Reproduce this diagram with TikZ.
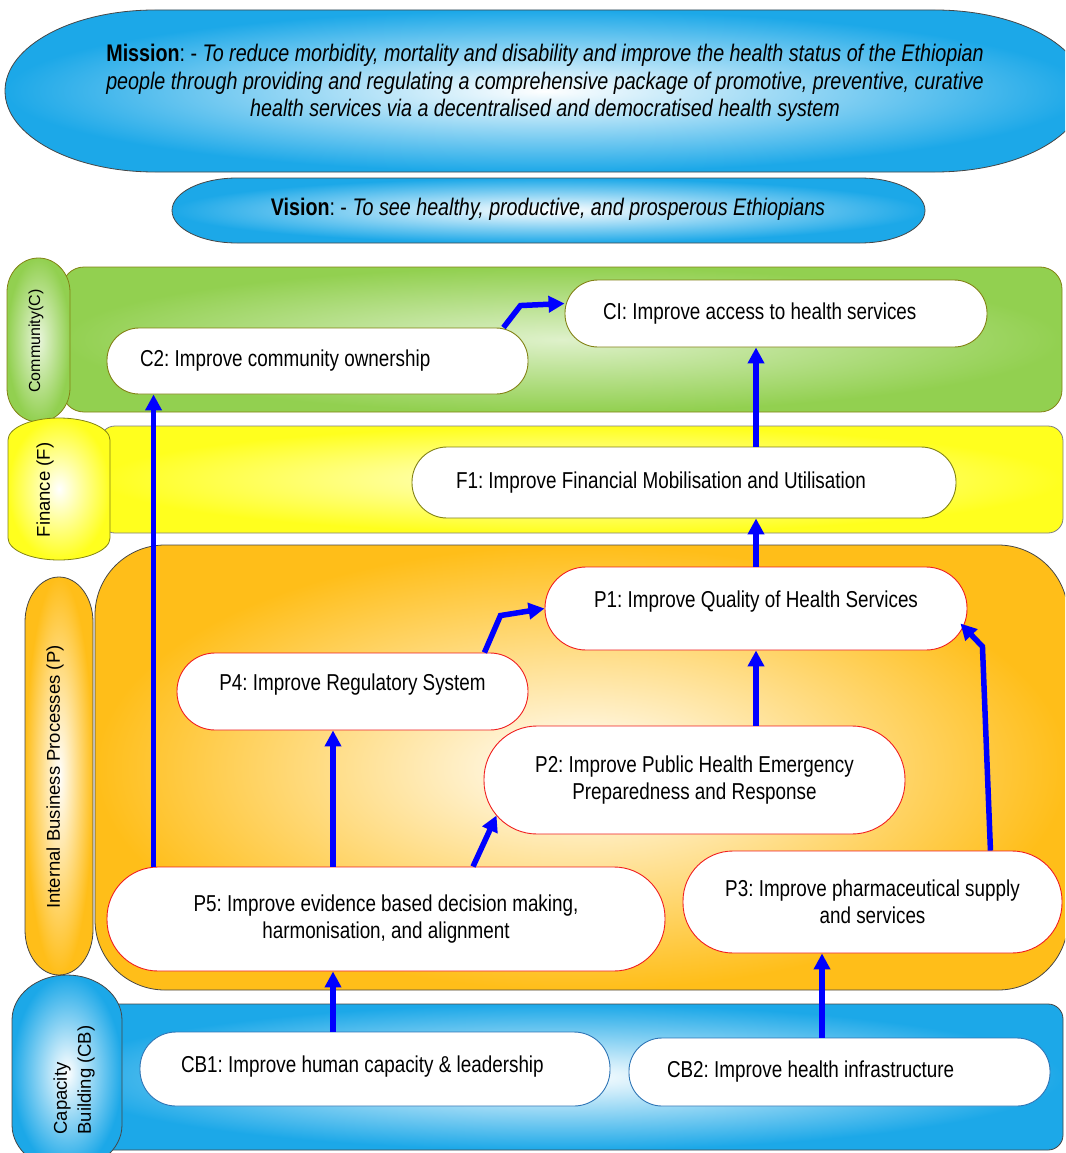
\documentclass[tikz,border=0pt]{standalone}
\usepackage{fontspec}
\setmainfont{Liberation Sans}[FakeStretch=0.82]
\newfontfamily\sidefont{Liberation Sans}
\usetikzlibrary{arrows.meta}
\frenchspacing

\definecolor{skyband}{RGB}{28,168,232}
\definecolor{grassband}{RGB}{146,208,80}
\definecolor{lemonband}{RGB}{255,255,30}
\definecolor{amberband}{RGB}{255,190,25}
\definecolor{oliveline}{RGB}{130,130,20}
\definecolor{darkline}{RGB}{70,70,70}
\definecolor{arrowblue}{RGB}{0,0,255}
\definecolor{cbline}{RGB}{46,117,182}
\definecolor{redline}{RGB}{240,30,30}

% horizontal capsule: style, x0, y0, x1, y1, end radius
\newcommand{\hcapsule}[6]{%
  \path[#1] ({#2+#6},#3) -- ({#4-#6},#3)
    arc[start angle=-90,end angle=90,x radius=#6,y radius={(#5-#3)/2}]
    -- ({#2+#6},#5)
    arc[start angle=90,end angle=270,x radius=#6,y radius={(#5-#3)/2}] -- cycle;}
% vertical capsule: style, x0, y0, x1, y1, end radius
\newcommand{\vcapsule}[6]{%
  \path[#1] (#2,{#3+#6})
    arc[start angle=180,end angle=360,x radius={(#4-#2)/2},y radius=#6]
    -- (#4,{#5-#6})
    arc[start angle=0,end angle=180,x radius={(#4-#2)/2},y radius=#6] -- cycle;}

\begin{document}
\begin{tikzpicture}[x=1pt,y=-1pt,
  obj/.style={draw=#1, fill=white, line width=0.9pt, inner sep=0pt, align=center,
    font=\fontsize{23}{27}\selectfont},
  flow/.style={draw=arrowblue, line width=5.5pt, -{Triangle[length=16pt,width=16pt]}},
  sidelbl/.style={rotate=90, align=left, font=\sidefont\fontsize{18.5}{24}\selectfont}]
\useasboundingbox (0,0) rectangle (1065,1153);
\clip (0,0) rectangle (1065,1153);

% Mission and vision
\hcapsule{draw=darkline, line width=0.8pt, inner color=white, outer color=skyband}{5}{10}{1085}{172}{150}
\node[align=center, font=\fontsize{24}{27.5}\selectfont] (mission) at (545,83)
  {\textbf{Mission}: - \textit{To reduce morbidity, mortality and disability and improve the health status of the Ethiopian}\\
   \textit{people through providing and regulating a comprehensive package of promotive, preventive, curative}\\
   \textit{health services via a decentralised and democratised health system}};
\hcapsule{draw=darkline, line width=0.8pt, inner color=white, outer color=skyband}{172}{178}{925}{243}{65}
\node[font=\fontsize{24}{27.5}\selectfont] (vision) at (548,209)
  {\textbf{Vision}: - \textit{To see healthy, productive, and prosperous Ethiopians}};

% Perspective bands
\draw[oliveline, line width=0.8pt, inner color=grassband!30, outer color=grassband, rounded corners=22]
  (62,267) rectangle (1062,412);
\draw[gray, line width=0.8pt, inner color=lemonband!15, outer color=lemonband, rounded corners=15]
  (100,426) rectangle (1063,533);
\draw[darkline, line width=0.8pt, inner color=white, outer color=amberband, rounded corners=70]
  (95,545) rectangle (1068,990);
\draw[darkline, line width=0.8pt, inner color=white, outer color=skyband, rounded corners=15]
  (60,1004) rectangle (1063,1150);

% Side labels
\vcapsule{draw=oliveline, line width=0.8pt, inner color=grassband!20, outer color=grassband}{7}{258}{70}{422}{34}
\node[sidelbl, font=\sidefont\fontsize{16}{20}\selectfont] (comlbl) at (36,341) {Community(C)};
\vcapsule{draw=oliveline, line width=0.8pt, inner color=white, outer color=lemonband}{8}{418}{110}{560}{22}
\node[sidelbl] (finlbl) at (45,490) {Finance (F)};
\vcapsule{draw=darkline, line width=0.8pt, inner color=white, outer color=amberband}{25}{577}{93}{975}{45}
\node[sidelbl] (intlbl) at (55,777) {Internal Business Processes (P)};
\vcapsule{draw=darkline, line width=0.8pt, inner color=white, outer color=skyband}{12}{975}{122}{1170}{45}
\node[sidelbl] (caplbl) at (74,1080) {Capacity\\Building (CB)};

% Objectives
\node[obj=oliveline, rounded corners=33, minimum height=67, inner xsep=38pt, text width=346pt, align=flush left]
  (C1) at (776,313.5) {CI: Improve access to health services};
\node[obj=oliveline, rounded corners=32, minimum height=66, inner xsep=33pt, text width=355pt, align=flush left]
  (C2) at (317.5,361) {C2: Improve community ownership};
\node[obj=oliveline, rounded corners=35, minimum height=71, inner xsep=44pt, text width=456pt, align=flush left]
  (F1) at (684,482.5) {F1: Improve Financial Mobilisation and Utilisation};
\node[obj=redline, rounded corners=41, minimum width=422, minimum height=83, text depth=19pt]
  (P1) at (756,608.5) {P1: Improve Quality of Health Services};
\node[obj=redline, rounded corners=38, minimum width=351, minimum height=77, text depth=19pt]
  (P4) at (352.5,691.5) {P4: Improve Regulatory System};
\node[obj=redline, rounded corners=53, minimum width=421, minimum height=108]
  (P2) at (694.5,780) {P2: Improve Public Health Emergency\\Preparedness and Response};
\node[obj=redline, rounded corners=51, minimum width=558, minimum height=104]
  (P5) at (386,919) {P5: Improve evidence based decision making,\\harmonisation, and alignment};
\node[obj=redline, rounded corners=50, minimum width=379, minimum height=102]
  (P3) at (872.5,902) {P3: Improve pharmaceutical supply\\and services};
\node[obj=cbline, rounded corners=36, minimum height=74, inner xsep=41pt, text width=388pt, align=flush left, text depth=10pt]
  (CB1) at (375,1069) {CB1: Improve human capacity \& leadership};
\node[obj=cbline, rounded corners=33, minimum height=68, inner xsep=38pt, text width=345pt, align=flush left]
  (CB2) at (839.5,1072) {CB2: Improve health infrastructure};

% Cause and effect links
\draw[flow] ([xshift=-25pt]C2.north east) -- ++(17,-22) -- ([yshift=10pt]C1.west);
\draw[flow] (F1.north -| P1.north) -- (C1.south -| P1.north);
\draw[flow] (P1.north) -- (F1.south -| P1.north);
\draw[flow] ([xshift=47pt]P5.north west) -- ([xshift=47pt]C2.south west);
\draw[flow] ([xshift=-44pt]P4.north east) -- ++(16,-37) -- (P1.west);
\draw[flow] (P2.north -| P1.south) -- (P1.south);
\draw[flow] ([xshift=-72pt]P3.north east) -- ++(-8,-204) -- ([xshift=-7pt,yshift=-15pt]P1.east);
\draw[flow] ([xshift=-53pt]P5.north) -- ([xshift=-53pt]P5.north |- P4.south);
\draw[flow] ([xshift=87pt]P5.north) -- ([xshift=13pt,yshift=19pt]P2.south west);
\draw[flow] ([xshift=-53pt]P5.south |- CB1.north) -- ([xshift=-53pt]P5.south);
\draw[flow] ([xshift=-50.5pt]P3.south |- CB2.north) -- ([xshift=-50.5pt]P3.south);
\end{tikzpicture}
\end{document}
